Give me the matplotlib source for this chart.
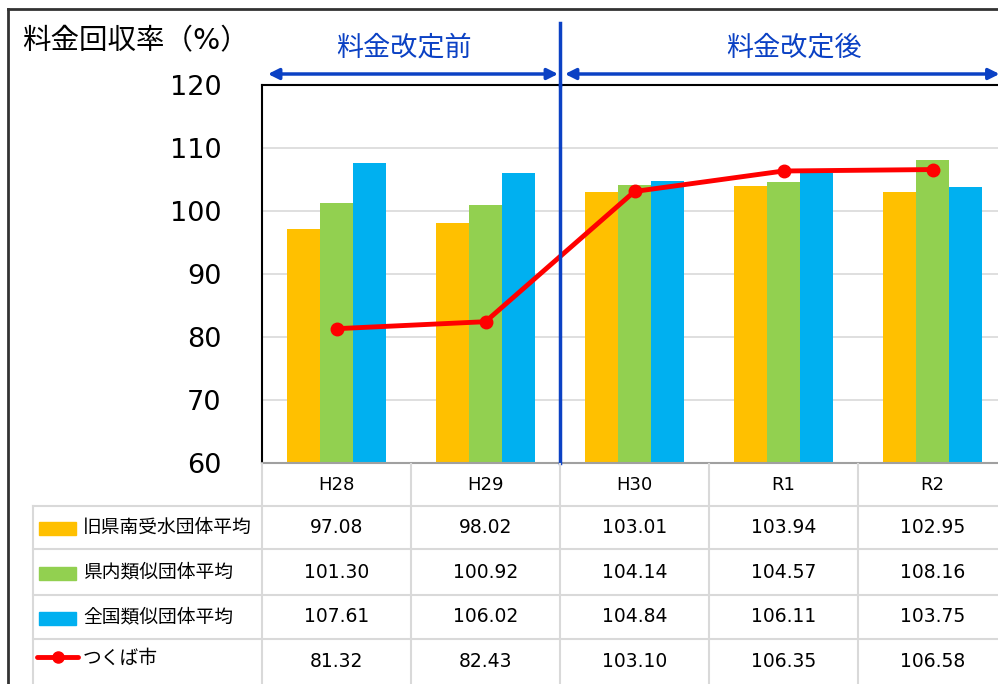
import matplotlib
matplotlib.use("Agg")
import matplotlib.pyplot as plt
import numpy as np
from matplotlib.lines import Line2D
from matplotlib.patches import Rectangle

plt.rcParams['font.family'] = ['DejaVu Sans', 'Noto Sans CJK JP']

# ---- data ----
years = ["H28", "H29", "H30", "R1", "R2"]
series_names = ["旧県南受水団体平均", "県内類似団体平均", "全国類似団体平均"]
kennan = [97.08, 98.02, 103.01, 103.94, 102.95]
kennai = [101.30, 100.92, 104.14, 104.57, 108.16]
zenkoku = [107.61, 106.02, 104.84, 106.11, 103.75]
tsukuba_name = "つくば市"
tsukuba = [81.32, 82.43, 103.10, 106.35, 106.58]
y_ticks = [60, 70, 80, 90, 100, 110, 120]
before_label = "料金改定前"
after_label = "料金改定後"
title = "料金回収率（%）"

bar_colors = ["#FFC000", "#92D050", "#00B0F0"]
line_color = "#FF0000"
blue = "#0B41C4"
grid_gray = "#D9D9D9"

W, H = 998, 684
fig = plt.figure(figsize=(W / 100, H / 100), dpi=100)

def fx(px):
    return px / W

def fy(py):
    return 1 - py / H

# plot area (extends slightly past the right edge of the canvas)
ax_l, ax_r, ax_t, ax_b = 262, 1007, 85, 463
ax = fig.add_axes([fx(ax_l), fy(ax_b), fx(ax_r - ax_l), (ax_b - ax_t) / H])
x = np.arange(len(years))
bw = 0.22
all_series = [kennan, kennai, zenkoku]
for i, (vals, c) in enumerate(zip(all_series, bar_colors)):
    ax.bar(x + (i - 1) * bw, np.array(vals) - 60, bottom=60, width=bw,
           color=c, zorder=2)
ax.plot(x, tsukuba, color=line_color, lw=3.5, marker="o", ms=9, zorder=4,
        solid_capstyle="round")
ax.set_xlim(-0.5, len(years) - 0.5)
ax.set_ylim(60, 120)
ax.set_yticks(y_ticks)
ax.set_yticklabels([str(t) for t in y_ticks], fontsize=19.5)
ax.tick_params(axis="y", length=0, pad=29)
ax.set_xticks([])
ax.grid(axis="y", color=grid_gray, lw=1.2, zorder=0)
ax.set_axisbelow(True)
for s in ["left", "top"]:
    ax.spines[s].set_color("black")
    ax.spines[s].set_linewidth(1.5)
ax.spines["right"].set_visible(False)
ax.spines["bottom"].set_color("#A0A0A0")
ax.spines["bottom"].set_linewidth(1.5)

# divider between periods and period arrows
ax.axvline(1.5, ymin=0, ymax=1, color=blue, lw=2.5, zorder=5, clip_on=False)
ax.plot([1.5, 1.5], [120, 120 + 62 / 378 * 60], color=blue, lw=2.5,
        clip_on=False, zorder=5)
arrow_y = 120 + 11 / 378 * 60
arrow_kw = dict(arrowstyle="<|-|>", color=blue, lw=2.5, mutation_scale=16,
                shrinkA=0, shrinkB=0)
ax.annotate("", xy=(-0.46, arrow_y), xytext=(1.487, arrow_y),
            arrowprops=arrow_kw, annotation_clip=False)
ax.annotate("", xy=(1.533, arrow_y), xytext=(4.45, arrow_y),
            arrowprops=arrow_kw, annotation_clip=False)
text_y = 120 + 37 / 378 * 60
ax.text(0.45, text_y, before_label, color=blue, fontsize=19.5,
        ha="center", va="center", clip_on=False)
ax.text(3.07, text_y, after_label, color=blue, fontsize=19.5,
        ha="center", va="center", clip_on=False)

# title and outer frame
fig.text(fx(22), fy(41), title, fontsize=20.5, ha="left", va="center")
fig.add_artist(Line2D([fx(8), 1.0], [fy(8.5), fy(8.5)], color="#333333", lw=2))
fig.add_artist(Line2D([fx(8), fx(8)], [fy(8.5), 0], color="#333333", lw=2))

# data table below the plot area
tab = fig.add_axes([fx(ax_l), 0, fx(ax_r - ax_l), (H - ax_b) / H])
tab.set_xlim(-0.5, len(years) - 0.5)
tab.set_ylim(H, ax_b)
tab.axis("off")
col_w = (ax_r - ax_l) / len(years)
label_left = -0.5 - (ax_l - 33) / col_w
row_edges = [463, 506, 549, 595, 639, 684]
tl = dict(color=grid_gray, lw=1.5, clip_on=False)
for ye in row_edges[1:-1]:
    tab.plot([label_left, 4.5], [ye, ye], **tl)
tab.plot([label_left, label_left], [506, 684], **tl)
for k in range(len(years)):
    tab.plot([k - 0.5, k - 0.5], [464, 684], **tl)

centers = [(row_edges[i] + row_edges[i + 1]) / 2 for i in range(len(row_edges) - 1)]
for k, yr in enumerate(years):
    tab.text(k, centers[0], yr, ha="center", va="center", fontsize=13)
rows = all_series + [tsukuba]
for r, vals in enumerate(rows):
    for k, v in enumerate(vals):
        tab.text(k, centers[r + 1], f"{v:.2f}", ha="center", va="center",
                 fontsize=13.5)

# legend keys in the label column
key_l = -0.5 - (ax_l - 39) / col_w
key_w = 37 / col_w
text_x = -0.5 - (ax_l - 83) / col_w
for r, (name, c) in enumerate(zip(series_names, bar_colors)):
    cy = centers[r + 1] + 1
    tab.add_patch(Rectangle((key_l, cy - 6.5), key_w, 13, color=c,
                            clip_on=False))
    tab.text(text_x, centers[r + 1], name, ha="left", va="center",
             fontsize=13.5, clip_on=False)
ly = centers[4] - 4.5
tab.plot([-0.5 - (ax_l - 37) / col_w, -0.5 - (ax_l - 78) / col_w], [ly, ly],
         color=line_color, lw=3.5, solid_capstyle="round", clip_on=False)
tab.plot([-0.5 - (ax_l - 58) / col_w], [ly], marker="o", ms=8,
         color=line_color, clip_on=False)
tab.text(text_x, centers[4] - 3, tsukuba_name, ha="left", va="center",
         fontsize=13.5, clip_on=False)

fig.savefig("out.png", dpi=100)
